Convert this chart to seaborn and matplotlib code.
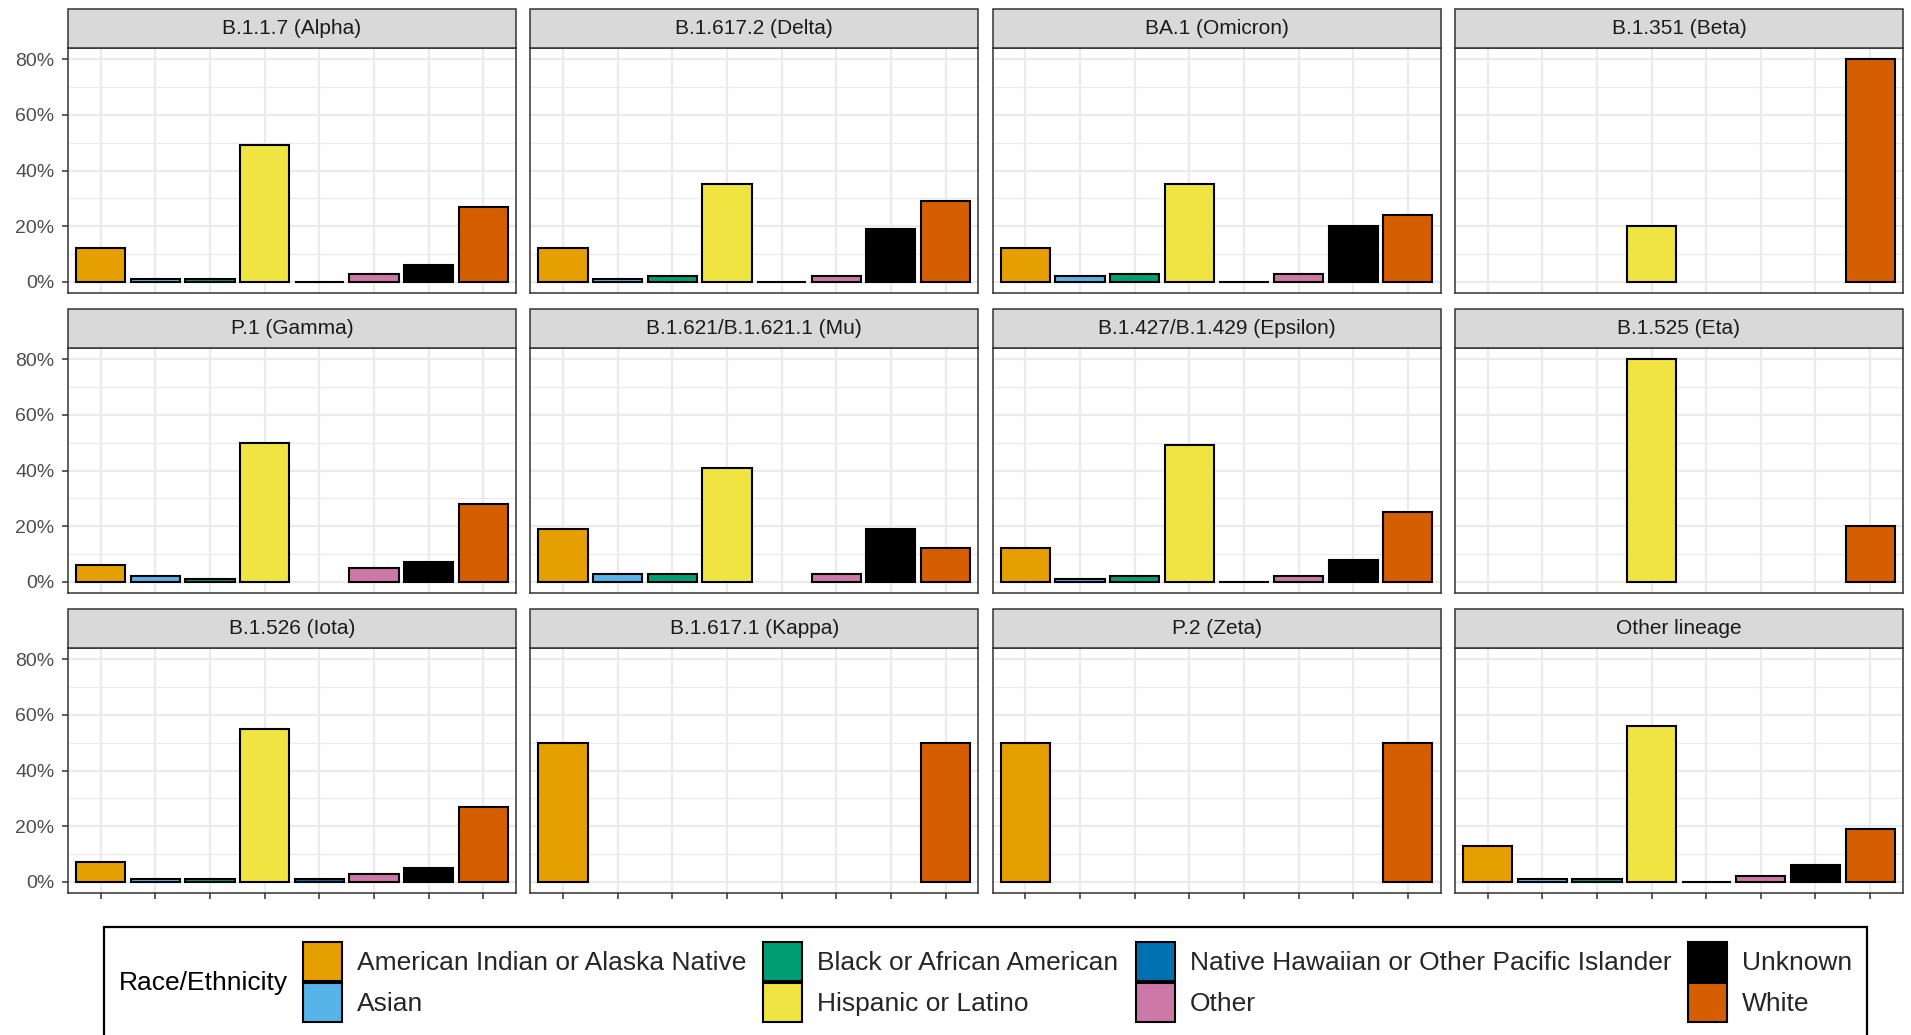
import numpy as np
import pandas as pd
import matplotlib
matplotlib.use("Agg")
import matplotlib.pyplot as plt
from matplotlib.patches import Patch, Rectangle
import seaborn as sns

# ---- data (percent of cases by race/ethnicity within each lineage) ----
races = ["American Indian or Alaska Native", "Asian", "Black or African American",
         "Hispanic or Latino", "Native Hawaiian or Other Pacific Islander", "Other",
         "Unknown", "White"]
race_colors = ["#E69F00", "#56B4E9", "#009E73", "#F0E442",
               "#0072B2", "#CC79A7", "#000000", "#D55E00"]

lineages = ["B.1.1.7 (Alpha)", "B.1.617.2 (Delta)", "BA.1 (Omicron)", "B.1.351 (Beta)",
            "P.1 (Gamma)", "B.1.621/B.1.621.1 (Mu)", "B.1.427/B.1.429 (Epsilon)", "B.1.525 (Eta)",
            "B.1.526 (Iota)", "B.1.617.1 (Kappa)", "P.2 (Zeta)", "Other lineage"]

nan = np.nan
alpha_pct = [12, 1, 1, 49, 0, 3, 6, 27]
delta_pct = [12, 1, 2, 35, 0, 2, 19, 29]
omicron_pct = [12, 2, 3, 35, 0, 3, 20, 24]
beta_pct = [nan, nan, nan, 20, nan, nan, nan, 80]
gamma_pct = [6, 2, 1, 50, nan, 5, 7, 28]
mu_pct = [19, 3, 3, 41, nan, 3, 19, 12]
epsilon_pct = [12, 1, 2, 49, 0, 2, 8, 25]
eta_pct = [nan, nan, nan, 80, nan, nan, nan, 20]
iota_pct = [7, 1, 1, 55, 1, 3, 5, 27]
kappa_pct = [50, nan, nan, nan, nan, nan, nan, 50]
zeta_pct = [50, nan, nan, nan, nan, nan, nan, 50]
other_pct = [13, 1, 1, 56, 0, 2, 6, 19]

series = [alpha_pct, delta_pct, omicron_pct, beta_pct, gamma_pct, mu_pct,
          epsilon_pct, eta_pct, iota_pct, kappa_pct, zeta_pct, other_pct]

rows = []
for lin, vals in zip(lineages, series):
    for race, v in zip(races, vals):
        rows.append({"lineage": lin, "race": race, "pct": v})
df = pd.DataFrame(rows).dropna()

palette = dict(zip(races, race_colors))

# ---- style ----
sns.set_style("white")
plt.rcParams["font.family"] = ["Liberation Sans", "DejaVu Sans"]

W, H = 1911, 1035
fig = plt.figure(figsize=(W / 100, H / 100), dpi=100)
fig.patch.set_facecolor("white")

panel_left0 = 68
panel_w = 448
col_pitch = 462.3
panel_top0 = 48
panel_h = 245
row_pitch = 300
strip_h = 39

for i, lin in enumerate(lineages):
    r, c = divmod(i, 4)
    left = panel_left0 + c * col_pitch
    top = panel_top0 + r * row_pitch
    ax = fig.add_axes([left / W, 1 - (top + panel_h) / H, panel_w / W, panel_h / H])
    sub = df[df["lineage"] == lin]
    sns.barplot(data=sub, x="race", y="pct", hue="race", order=races, hue_order=races,
                palette=palette, saturation=1, width=0.9, edgecolor="black",
                linewidth=1.5, errorbar=None, legend=False, dodge=False, ax=ax)
    ax.set_xlim(-0.6, 7.6)
    ax.set_ylim(-4, 84)
    ax.set_xlabel("")
    ax.set_ylabel("")

    ax.set_yticks([0, 20, 40, 60, 80])
    ax.set_yticks([10, 30, 50, 70], minor=True)
    ax.set_xticks(range(len(races)))
    ax.set_xticklabels([""] * len(races))
    ax.set_axisbelow(True)
    ax.grid(which="major", color="#EBEBEB", linewidth=1.6)
    ax.grid(which="minor", axis="y", color="#EBEBEB", linewidth=0.9)

    for sp in ax.spines.values():
        sp.set_visible(True)
        sp.set_color("#333333")
        sp.set_linewidth(1.1)

    if c == 0:
        ax.set_yticklabels(["0%", "20%", "40%", "60%", "80%"])
        ax.tick_params(axis="y", which="major", length=4.3, width=1.1, color="#333333",
                       labelsize=14, labelcolor="#4D4D4D", pad=5.5, left=True)
    else:
        ax.tick_params(axis="y", which="major", left=False, labelleft=False)
    ax.tick_params(axis="y", which="minor", left=False)

    if r == 2:
        ax.tick_params(axis="x", length=4.3, width=1.1, color="#333333", bottom=True)
    else:
        ax.tick_params(axis="x", length=0, bottom=False)

    # facet strip
    ax.add_patch(Rectangle((0, 1), 1, strip_h / panel_h, transform=ax.transAxes,
                           clip_on=False, facecolor="#D9D9D9", edgecolor="#333333",
                           linewidth=1.1, zorder=5))
    ax.text(0.5, 1 + (strip_h / 2) / panel_h, lin, transform=ax.transAxes,
            ha="center", va="center", fontsize=15, color="#1A1A1A", zorder=6)

# ---- legend ----
box_left, box_right, box_top = 104, 1867, 927
fig.patches.append(Rectangle((box_left / W, -0.05), (box_right - box_left) / W,
                             1 - box_top / H + 0.05, transform=fig.transFigure,
                             facecolor="white", edgecolor="black", linewidth=1.6,
                             zorder=1))
fig.text(119 / W, 1 - 983 / H, "Race/Ethnicity", ha="left", va="center",
         fontsize=19, color="black")

handles = [Patch(facecolor=col, edgecolor="black", linewidth=1.5) for col in race_colors]
fs_pt = 19
key_pt = 39 * 72 / 100  # key size in points
# matplotlib shortens the handle box by a descent term: h_box = fs*(0.65*hh + 0.245)
hh = (key_pt / fs_pt - 0.245) / 0.65
leg = fig.legend(handles, races, ncol=4, loc="upper left",
                 bbox_to_anchor=(303 / W, 1 - 942 / H), frameon=False,
                 fontsize=fs_pt, borderpad=0, borderaxespad=0,
                 handlelength=key_pt / fs_pt, handleheight=hh,
                 handletextpad=(15 * 72 / 100) / fs_pt,
                 columnspacing=(17 * 72 / 100) / fs_pt,
                 labelspacing=(2 * 72 / 100) / fs_pt)

fig.savefig("out.png", dpi=100)
